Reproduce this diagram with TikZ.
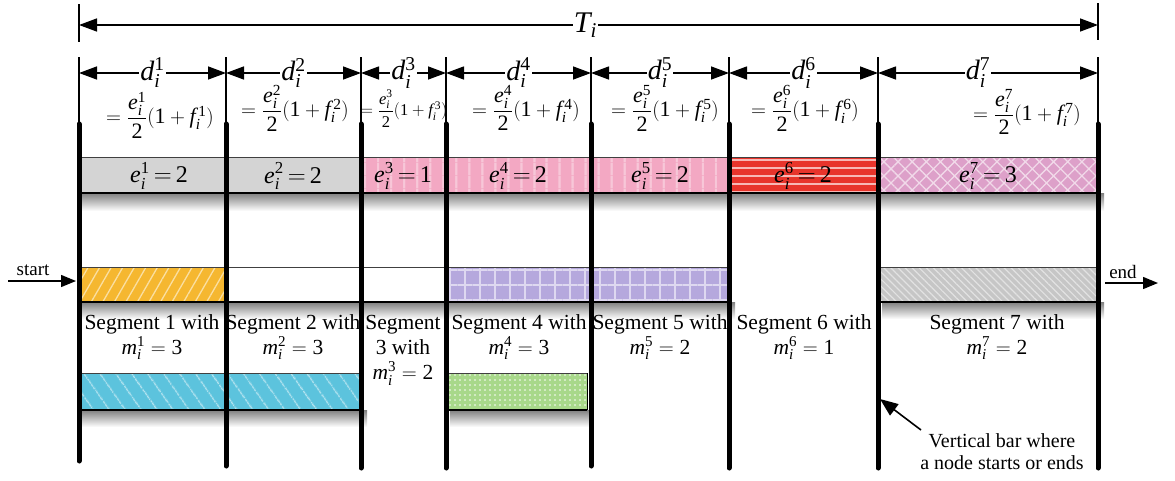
\documentclass[tikz,border=0pt]{standalone}
\usepackage{amsmath}
\usepackage{mathspec}
\setmainfont{Liberation Serif}
\setmathsfont(Digits,Latin){Liberation Serif}
\usetikzlibrary{arrows.meta,patterns.meta}
\definecolor{cgray}{HTML}{D4D4D4}
\definecolor{cpink}{HTML}{F3A8C3}
\definecolor{cred}{HTML}{E8342B}
\definecolor{cmauve}{HTML}{DDA0C9}
\definecolor{corange}{HTML}{F5B730}
\definecolor{clav}{HTML}{B5A8DD}
\definecolor{cgraytwo}{HTML}{C6C6C6}
\definecolor{cblue}{HTML}{5CC3DD}
\definecolor{cgreen}{HTML}{A8D88A}
\newcommand{\fr}[1]{=\dfrac{e_i^{#1}}{2}(1+f_i^{\,#1})}
\newcommand{\ev}[2]{\thickmuskip=3mu\relax e_i^{#1}=#2}
\begin{document}
\begin{tikzpicture}[x=1pt,y=-1pt,
  vbar/.style={line width=5pt,line cap=round},
  tickline/.style={line width=1.2pt},
  dimline/.style={line width=1.4pt,{Triangle[length=18pt,width=13pt]}-{Triangle[length=18pt,width=13pt]}},
  lbl/.style={fill=white,inner sep=1pt,font=\fontsize{28}{32}\selectfont},
  frm/.style={inner sep=0pt,font=\fontsize{22}{26}\selectfont},
  cell/.style={inner sep=0pt,font=\fontsize{24}{28}\selectfont},
  segtxt/.style={align=center,inner sep=0pt,font=\fontsize{21.5}{25}\selectfont},
  shadowbox/.style={top color=black!50,bottom color=white,draw=none},
  topedge/.style={line width=0.8pt,black!75},
  botedge/.style={line width=1.6pt,black},
  arr/.style={line width=1.4pt,-{Triangle[length=15pt,width=12pt]}}
]
\useasboundingbox (0,0) rectangle (1175,480);
% bar x positions
\foreach \i/\x in {1/79,2/226,3/361,4/446,5/591,6/729,7/878,8/1098}{
  \coordinate (t\i) at (\x,73);
  \coordinate (k\i) at (\x,57);
  \coordinate (v\i) at (\x,124);
}
% ---------- shadows ----------
\shade[shadowbox] (82,193) rectangle (1104,211);
\shade[shadowbox] (82,302) rectangle (735,319);
\shade[shadowbox] (882,302) rectangle (1104,319);
\shade[shadowbox] (82,410) rectangle (367,427);
\shade[shadowbox] (450,410) rectangle (593,427);
% ---------- row 1 ----------
\path[fill=cgray] (79,157) rectangle (361,193);
\path[fill=cpink,postaction={pattern={Lines[angle=90,distance=13pt,line width=1.3pt]},pattern color=white!55!cpink}] (361,157) rectangle (729,193);
\path[fill=cred,postaction={pattern={Lines[angle=0,distance=8pt,line width=1.3pt]},pattern color=white!65!cred}] (729,158) rectangle (878,193);
\path[fill=cmauve,postaction={pattern={Hatch[angle=45,distance=10pt,line width=1.3pt]},pattern color=white!60!cmauve}] (878,157) rectangle (1098,193);
\draw[topedge] (79,157) -- (1098,157);
\draw[botedge] (79,193) -- (1098,193);
% ---------- row 2 ----------
\path[fill=corange,postaction={pattern={Lines[angle=60,distance=10pt,line width=1.3pt]},pattern color=white!55!corange}] (79,267) rectangle (226,302);
\path[fill=clav,postaction={pattern={Hatch[angle=0,distance=15pt,line width=1.6pt]},pattern color=white!55!clav}] (446,267) rectangle (729,302);
\path[fill=cgraytwo,postaction={pattern={Lines[angle=-45,distance=5pt,line width=1.2pt]},pattern color=white!50!cgraytwo}] (878,267) rectangle (1098,302);
\draw[topedge] (79,267) -- (729,267);
\draw[botedge] (79,302) -- (729,302);
\draw[topedge] (878,267) -- (1098,267);
\draw[botedge] (878,302) -- (1098,302);
% ---------- row 3 ----------
\path[fill=cblue,postaction={pattern={Lines[angle=-55,distance=13pt,line width=1.3pt]},pattern color=white!55!cblue}] (79,373) rectangle (361,410);
\path[fill=cgreen,postaction={pattern={Dots[distance=5pt,radius=1.1pt]},pattern color=white!65!cgreen}] (446,373) rectangle (587,410);
\draw[topedge] (79,373) -- (361,373);
\draw[botedge] (79,410) -- (361,410);
\draw[topedge] (446,373) -- (587,373);
\draw[botedge] (446,410) -- (587,410);
\draw[line width=1pt] (587,373) -- (587,410);
% ---------- thick vertical bars ----------
\draw[vbar] (v1) -- (79,461);
\draw[vbar] (v2) -- (226,466);
\draw[vbar] (v3) -- (361,468);
\draw[vbar] (v4) -- (446,468);
\draw[vbar] (v5) -- (591,466);
\draw[vbar] (v6) -- (729,468);
\draw[vbar] (v7) -- (878,468);
\draw[vbar] (v8) -- (1098,468);
% ---------- thin ticks ----------
\foreach \i in {1,...,8}{\draw[tickline] (k\i) -- (v\i);}
\coordinate (ta) at (79,25);
\coordinate (tb) at (1098,25);
\draw[tickline] (79,4) -- (79,42);
\draw[tickline] (1098,3) -- (1098,40);
\draw[dimline] (ta) -- node[lbl,font=\fontsize{30}{34}\selectfont,pos=0.497] (T) {$T_i$} (tb);
% ---------- d labels ----------
\draw[dimline] (t1) -- node[lbl] (d1) {$d_i^1$} (t2);
\draw[dimline] (t2) -- node[lbl] (d2) {$d_i^2$} (t3);
\draw[dimline] (t3) -- node[lbl] (d3) {$d_i^3$} (t4);
\draw[dimline] (t4) -- node[lbl] (d4) {$d_i^4$} (t5);
\draw[dimline] (t5) -- node[lbl] (d5) {$d_i^5$} (t6);
\draw[dimline] (t6) -- node[lbl] (d6) {$d_i^6$} (t7);
\draw[dimline] (t7) -- node[lbl,pos=0.455] (d7) {$d_i^7$} (t8);
% ---------- formulas ----------
\node[frm] (f1) at (160,115) {$\fr{1}$};
\node[frm] (f2) at (295,108) {$\fr{2}$};
\node[frm,font=\fontsize{16.5}{20}\selectfont] (f3) at (404,109) {$\fr{3}$};
\node[frm] (f4) at (526,108) {$\fr{4}$};
\node[frm] (f5) at (665,108) {$\fr{5}$};
\node[frm] (f6) at (805,108) {$\fr{6}$};
\node[frm] (f7) at (1027,112) {$\fr{7}$};
% ---------- row 1 labels ----------
\node[cell] (e1) at (159,176) {$\ev{1}{2}$};
\node[cell] (e2) at (293,176) {$\ev{2}{2}$};
\node[cell] (e3) at (403,176) {$\ev{3}{1}$};
\node[cell] (e4) at (518,176) {$\ev{4}{2}$};
\node[cell] (e5) at (660,176) {$\ev{5}{2}$};
\node[cell] (e6) at (803,176) {$\ev{6}{2}$};
\node[cell] (e7) at (988,176) {$\ev{7}{3}$};
% ---------- segment labels ----------
\node[segtxt] (s1) at (152,337) {Segment 1 with\\$m_i^1=3$};
\node[segtxt] (s2) at (293,337) {Segment 2 with\\$m_i^2=3$};
\node[segtxt] (s3) at (403,350) {Segment\\3 with\\$m_i^3=2$};
\node[segtxt] (s4) at (519,337) {Segment 4 with\\$m_i^4=3$};
\node[segtxt] (s5) at (660,337) {Segment 5 with\\$m_i^5=2$};
\node[segtxt] (s6) at (804,337) {Segment 6 with\\$m_i^6=1$};
\node[segtxt] (s7) at (997,337) {Segment 7 with\\$m_i^7=2$};
% ---------- start / end ----------
\coordinate (sa) at (8,281);
\coordinate (sb) at (76,281);
\node[segtxt,font=\fontsize{19}{22}\selectfont] (start) at (33,270) {start};
\draw[arr] (sa) -- (sb);
\coordinate (ea) at (1105,283);
\coordinate (eb) at (1158,283);
\node[segtxt,font=\fontsize{19}{22}\selectfont] (end) at (1123,272) {end};
\draw[arr] (ea) -- (eb);
% ---------- annotation ----------
\node[segtxt,font=\fontsize{20}{22}\selectfont] (ann) at (1002,452) {Vertical bar where\\a node starts or ends};
\coordinate (atail) at (921,430);
\coordinate (atip) at (880,399);
\draw[line width=1.6pt,-{Triangle[length=18pt,width=14pt]}] (atail) -- (atip);
\end{tikzpicture}
\end{document}
